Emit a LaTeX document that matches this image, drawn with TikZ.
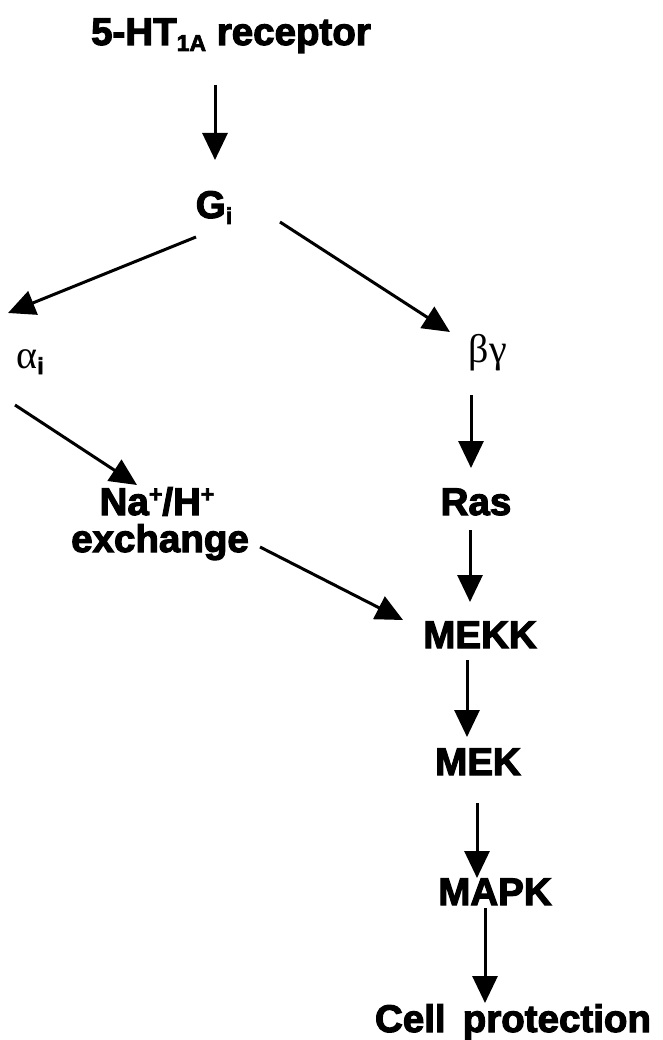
\documentclass[tikz,border=0pt]{standalone}
\usepackage{fontspec}
\usetikzlibrary{arrows.meta,calc}
\newfontfamily\heavy{Liberation Sans Bold}[FakeBold=3]
\newfontfamily\grk{Liberation Serif}
\newcommand\lowsub[1]{\raisebox{-6pt}{\fontsize{23}{23}\selectfont #1}}
\newcommand\upsup[1]{\raisebox{13pt}{\fontsize{23}{23}\selectfont #1}}
\begin{document}
\begin{tikzpicture}[x=1pt,y=-1pt,
 lbl/.style={anchor=base,inner sep=0pt,font=\heavy\fontsize{38.5}{44}\selectfont},
 glbl/.style={anchor=base,inner sep=0pt,font=\grk\fontsize{40}{44}\selectfont},
 arr/.style={line width=3pt,-{Triangle[length=27pt,width=25pt]}}]
\useasboundingbox (0,0) rectangle (662,1040);
\node[lbl] (title) at (231,45) {5-HT\lowsub{1A} receptor};
\node[lbl] (gi) at (214,218) {G\lowsub{i}};
\node[glbl] (alpha) at (30,368) {α\lowsub{\heavy i}};
\node[glbl] (bg) at (488,362) {βγ};
\node[lbl] (na) at (157,515) {Na\upsup{+}/H\upsup{+}};
\node[lbl] (exch) at (160,552) {exchange};
\node[lbl] (ras) at (476,515) {Ras};
\node[lbl] (mekk) at (480,648) {MEKK};
\node[lbl] (mek) at (478,775) {MEK};
\node[lbl] (mapk) at (495,905) {MAPK};
\node[lbl] (cell) at (513,1032) {Cell\ \,protection};
\draw[arr] ($(title.base)+(-16,40)$) -- ($(gi.base)+(1,-58)$);
\draw[arr] ($(gi.base)+(-18,19)$) -- ($(alpha.base)+(-22,-55)$);
\draw[arr] ($(gi.base)+(66,4)$) -- ($(bg.base)+(-38,-30)$);
\draw[arr] ($(bg.base)+(-17,33)$) -- ($(ras.base)+(-5,-47)$);
\draw[arr] ($(alpha.base)+(-15,37)$) -- ($(na.base)+(-20,-30)$);
\draw[arr] ($(ras.base)+(-6,15)$) -- ($(mekk.base)+(-10,-46)$);
\draw[arr] ($(exch.base)+(100,-5)$) -- ($(mekk.base)+(-77,-28)$);
\draw[arr] ($(mekk.base)+(-13,12)$) -- ($(mek.base)+(-11,-38)$);
\draw[arr] ($(mek.base)+(-1,28)$) -- ($(mapk.base)+(-18,-27)$);
\draw[arr] ($(mapk.base)+(-10,3)$) -- ($(cell.base)+(-28,-29)$);
\end{tikzpicture}
\end{document}
